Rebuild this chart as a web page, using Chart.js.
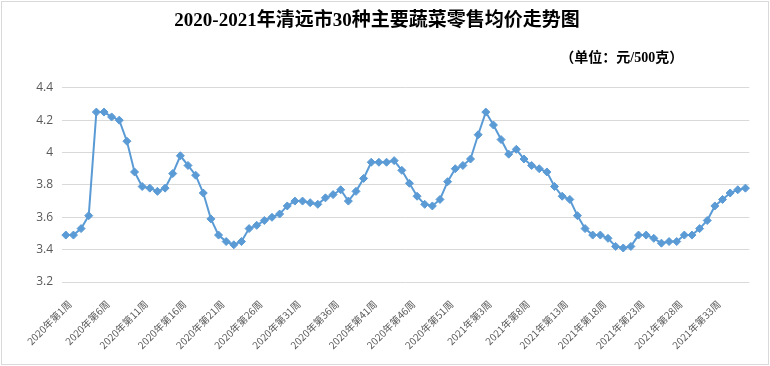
<!DOCTYPE html>
<html>
<head>
<meta charset="utf-8">
<script src="https://cdn.jsdelivr.net/npm/chart.js@4"></script>
<style>
html,body{margin:0;padding:0;background:#fff;}
#wrap{width:770px;height:366px;position:relative;}
</style>
</head>
<body>
<div id="wrap"><canvas id="c" width="770" height="366"></canvas></div>
<script>
const titleText = '2020-2021年清远市30种主要蔬菜零售均价走势图';
const unitText = '（单位：元/500克）';

const weeks2020 = 53;
const weeks2021 = 37;
const categories = [];
for (let w = 1; w <= weeks2020; w++) categories.push('2020年第' + w + '周');
for (let w = 1; w <= weeks2021; w++) categories.push('2021年第' + w + '周');

const prices2020 = [
  3.49, 3.49, 3.53, 3.61, 4.25, 4.25, 4.22, 4.20, 4.07, 3.88,
  3.79, 3.78, 3.76, 3.78, 3.87, 3.98, 3.92, 3.86, 3.75, 3.59,
  3.49, 3.45, 3.43, 3.45, 3.53, 3.55, 3.58, 3.60, 3.62, 3.67,
  3.70, 3.70, 3.69, 3.68, 3.72, 3.74, 3.77, 3.70, 3.76, 3.84,
  3.94, 3.94, 3.94, 3.95, 3.89, 3.81, 3.73, 3.68, 3.67, 3.71,
  3.82, 3.90, 3.92
];
const prices2021 = [
  3.96, 4.11, 4.25, 4.17, 4.08, 3.99, 4.02, 3.96, 3.92, 3.90,
  3.88, 3.79, 3.73, 3.71, 3.61, 3.53, 3.49, 3.49, 3.47, 3.42,
  3.41, 3.42, 3.49, 3.49, 3.47, 3.44, 3.45, 3.45, 3.49, 3.49,
  3.53, 3.58, 3.67, 3.71, 3.75, 3.77, 3.78
];
const prices = prices2020.concat(prices2021);

const yMin = 3.2, yMax = 4.4, yStep = 0.2;
const labelEvery = 5;

const decor = {
  id: 'decor',
  beforeDraw(chart) {
    const ctx = chart.ctx;
    ctx.save();
    ctx.fillStyle = '#ffffff';
    ctx.fillRect(0, 0, chart.width, chart.height);
    ctx.strokeStyle = '#d9d9d9';
    ctx.lineWidth = 1;
    ctx.strokeRect(1.5, 1.5, 767, 363);
    ctx.restore();
  },
  afterDraw(chart) {
    const ctx = chart.ctx;
    ctx.save();
    ctx.fillStyle = '#000000';
    ctx.font = 'bold 14px "Liberation Serif", "Noto Sans CJK SC"';
    ctx.textAlign = 'right';
    ctx.textBaseline = 'middle';
    ctx.fillText(unitText, chart.chartArea.right - 66, 58);
    ctx.restore();
  }
};

new Chart(document.getElementById('c'), {
  type: 'line',
  data: {
    labels: categories,
    datasets: [{
      data: prices,
      borderColor: '#5b9bd5',
      backgroundColor: '#5b9bd5',
      borderWidth: 2,
      pointStyle: 'rectRot',
      pointRadius: 4,
      pointHoverRadius: 4,
      pointBorderWidth: 1,
      tension: 0,
      fill: false
    }]
  },
  options: {
    responsive: false,
    animation: false,
    devicePixelRatio: 1,
    layout: { padding: { left: 0, right: 16, top: 0, bottom: 2 } },
    plugins: {
      legend: { display: false },
      tooltip: { enabled: false },
      title: {
        display: true,
        text: titleText,
        color: '#000000',
        font: { family: '"Liberation Serif", "Noto Sans CJK SC"', size: 19, weight: 'bold' },
        padding: { top: 10, bottom: 55 }
      }
    },
    scales: {
      x: {
        type: 'category',
        offset: true,
        afterFit(scale) { scale.height = 82; },
        grid: { display: false, drawTicks: false },
        border: { display: false },
        ticks: {
          autoSkip: false,
          maxRotation: 45,
          minRotation: 45,
          padding: 16,
          labelOffset: 4,
          color: '#595959',
          font: { family: '"Noto Sans CJK SC"', size: 10 },
          callback: function(v, i) { return i % labelEvery === 0 ? this.getLabelForValue(v) : ''; }
        }
      },
      y: {
        min: yMin,
        max: yMax,
        afterFit(scale) { scale.width = 62; },
        grid: { color: '#d9d9d9', lineWidth: 1, drawTicks: false },
        border: { display: false },
        ticks: {
          stepSize: yStep,
          padding: 9,
          color: '#595959',
          font: { family: '"Open Sans", "Liberation Sans"', size: 12 },
          callback: v => String(Number(v.toFixed(1)))
        }
      }
    }
  },
  plugins: [decor]
});
</script>
</body>
</html>
